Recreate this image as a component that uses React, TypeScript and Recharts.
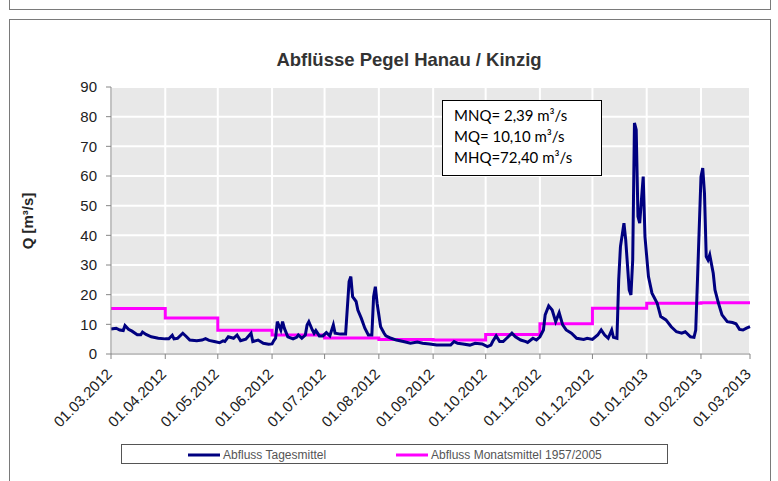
import React from "react";
import { LineChart, Line, XAxis, YAxis, CartesianGrid, Legend } from "recharts";

// Day offsets since 01.03.2012 for the daily discharge series
const flowDays = [
  0, 3, 5, 7, 8, 10, 12, 15, 17, 18, 20, 23, 27, 31, 33, 35, 36, 38, 41, 43,
  45, 49, 52, 54, 56, 59, 62, 64, 65, 67, 70, 72, 74, 77, 80, 81, 84, 87, 90, 92,
  93, 94, 95, 97, 98, 99, 101, 104, 106, 107, 109, 111, 112, 113, 115, 116, 117, 119, 121, 123,
  125, 127, 128, 131, 134, 136, 137, 138, 140, 141, 143, 145, 147, 149, 150, 151, 152, 154, 156, 157,
  160, 163, 167, 171, 175, 178, 182, 186, 190, 194, 196, 198, 201, 205, 208, 212, 215, 217, 218, 220,
  222, 224, 226, 229, 231, 234, 237, 238, 241, 243, 245, 247, 248, 250, 252, 254, 256, 258, 260, 263,
  266, 270, 272, 275, 278, 280, 282, 284, 286, 287, 289, 290, 291, 293, 294, 296, 297, 298, 299, 300,
  301, 302, 303, 304, 305, 307, 309, 312, 314, 317, 320, 323, 326, 328, 331, 333, 334, 335, 337, 338,
  339, 340, 341, 342, 344, 345, 347, 349, 352, 355, 357, 359, 361, 363, 365,
];
const flowValues = [
  8.4, 8.7, 8.1, 7.9, 9.6, 8.3, 7.7, 6.5, 6.5, 7.4, 6.6, 5.8, 5.3, 5.1, 5.1, 6.3, 5.1, 5.3, 7.0, 5.9,
  4.7, 4.5, 4.7, 5.2, 4.6, 4.2, 3.8, 4.4, 4.2, 5.8, 5.3, 6.4, 4.5, 5.0, 7.0, 4.2, 4.7, 3.6, 3.3, 3.4,
  4.5, 5.3, 10.9, 8.1, 10.9, 8.7, 5.8, 5.1, 5.6, 6.4, 5.3, 6.4, 9.8, 10.9, 8.1, 7.0, 7.9, 6.1, 6.1, 7.2,
  6.1, 9.8, 7.0, 6.7, 6.7, 24.4, 26.1, 19.3, 17.7, 14.8, 12.0, 8.7, 6.4, 6.4, 19.3, 22.7, 17.1, 9.2, 7.0, 6.1,
  5.3, 4.7, 4.2, 3.6, 4.0, 3.6, 3.4, 3.0, 3.0, 3.0, 4.2, 3.6, 3.4, 3.0, 3.6, 3.4, 2.5, 3.0, 4.2, 6.1,
  4.2, 4.2, 5.3, 7.0, 5.8, 4.7, 4.2, 3.9, 5.3, 4.7, 5.8, 8.1, 13.2, 16.2, 14.8, 10.9, 13.9, 9.8, 8.1, 7.0,
  5.3, 4.9, 5.3, 4.9, 6.4, 8.1, 6.4, 5.3, 8.1, 5.6, 5.3, 25.0, 36.2, 44.1, 38.5, 21.6, 19.9, 31.7, 77.9, 75.6,
  46.3, 44.1, 52.0, 59.8, 39.6, 26.1, 20.5, 17.1, 12.6, 11.5, 9.2, 7.5, 7.0, 7.5, 5.8, 5.6, 8.1, 25.0, 59.8, 62.7,
  54.2, 32.8, 31.7, 33.4, 27.2, 21.6, 17.1, 13.2, 10.9, 10.6, 10.2, 8.3, 8.1, 8.7, 9.2,
];

// Monthly long-term means (1957/2005), at each month start
const monthDays = [0, 31, 61, 92, 122, 153, 184, 214, 245, 275, 306, 337, 365];
const monthMeans = [15.3, 12.1, 8.0, 6.4, 5.4, 4.9, 4.7, 6.6, 10.2, 15.4, 17.1, 17.3, 17.3];
const monthLabels = [
  "01.03.2012", "01.04.2012", "01.05.2012", "01.06.2012", "01.07.2012", "01.08.2012",
  "01.09.2012", "01.10.2012", "01.11.2012", "01.12.2012", "01.01.2013", "01.02.2013", "01.03.2013",
];
const yTicks = [0, 10, 20, 30, 40, 50, 60, 70, 80, 90];

const title = "Abflüsse Pegel Hanau / Kinzig";
const yLabel = "Q [m³/s]";
const infoLines = ["MNQ= 2,39 m³/s", "MQ= 10,10 m³/s", "MHQ=72,40 m³/s"];
const seriesNames = ["Abfluss Tagesmittel", "Abfluss Monatsmittel 1957/2005"];
const seriesColors = ["#000080", "#FF00FF"];

const dailyData = flowDays.map((d, i) => ({ day: d, q: flowValues[i] }));
const monthlyData = monthDays.map((d, i) => ({ day: d, m: monthMeans[i] }));

const FONT = "Arial, 'Liberation Sans', sans-serif";

const XTick = (props: any) => {
  const { x, y, payload } = props;
  const idx = monthDays.indexOf(payload.value);
  return (
    <g transform={`translate(${x + 2},${y + 16})`}>
      <text
        x={0}
        y={0}
        textAnchor="end"
        transform="rotate(-45)"
        fontFamily={FONT}
        fontSize={15}
        fill="#222"
      >
        {idx >= 0 ? monthLabels[idx] : ""}
      </text>
    </g>
  );
};

const LegendContent = () => (
  <div
    style={{
      width: 547,
      height: 20,
      border: "1px solid #555",
      background: "#fff",
      boxSizing: "border-box",
      position: "relative",
      fontFamily: FONT,
      fontSize: 12,
      color: "#555",
    }}
  >
    {seriesNames.map((name, i) => (
      <div
        key={name}
        style={{
          position: "absolute",
          left: i === 0 ? 66 : 274,
          top: 1,
          display: "flex",
          alignItems: "center",
          height: 18,
          whiteSpace: "nowrap",
        }}
      >
        <svg width={33} height={6} style={{ marginRight: 2 }}>
          <line x1={0} y1={3} x2={32} y2={3} stroke={seriesColors[i]} strokeWidth={3} />
        </svg>
        <span>{name}</span>
      </div>
    ))}
  </div>
);

export default function App() {
  return (
    <div
      style={{
        position: "absolute",
        left: 0,
        top: 0,
        width: 778,
        height: 481,
        background: "#fff",
        overflow: "hidden",
      }}
    >
      {/* upper frame remnant */}
      <div
        style={{
          position: "absolute",
          left: 9,
          top: -10,
          width: 760,
          height: 18,
          border: "1.5px solid #7a7a7a",
        }}
      />
      {/* chart frame */}
      <div
        style={{
          position: "absolute",
          left: 9,
          top: 19,
          width: 760,
          height: 480,
          border: "1.5px solid #7a7a7a",
        }}
      />
      <svg
        width={778}
        height={80}
        style={{ position: "absolute", left: 0, top: 0 }}
      >
        <text
          x={409}
          y={66}
          textAnchor="middle"
          fontFamily={FONT}
          fontWeight="bold"
          fontSize={18.5}
          fill="#333"
        >
          {title}
        </text>
      </svg>
      <div style={{ position: "absolute", left: 0, top: 0 }}>
        <LineChart
          width={778}
          height={481}
          margin={{ top: 87, right: 28, bottom: 0, left: 0 }}
        >
          <CartesianGrid fill="#e8e8e8" stroke="#ffffff" strokeWidth={2} />
          <XAxis
            dataKey="day"
            type="number"
            domain={[0, 365]}
            ticks={monthDays}
            interval={0}
            height={127}
            tick={<XTick />}
            tickSize={5}
            tickMargin={0}
            stroke="#868686"
            allowDuplicatedCategory={false}
          />
          <YAxis
            type="number"
            domain={[0, 90]}
            ticks={yTicks}
            interval={0}
            width={111}
            tickSize={5}
            tickMargin={9}
            stroke="#868686"
            tick={{ fill: "#222", fontSize: 15, fontFamily: FONT }}
            label={(p: any) => (
              <text
                x={33}
                y={221}
                transform="rotate(-90, 33, 221)"
                textAnchor="middle"
                fontFamily={FONT}
                fontWeight="bold"
                fontSize={15}
                fill="#262626"
              >
                {yLabel}
              </text>
            )}
          />
          <Legend
            layout="horizontal"
            verticalAlign="middle"
            align="center"
            wrapperStyle={{ left: 121, top: 444, width: 547, height: 20 }}
            content={<LegendContent />}
          />
          <Line
            data={monthlyData}
            dataKey="m"
            type="stepAfter"
            stroke={seriesColors[1]}
            strokeWidth={3}
            dot={false}
            isAnimationActive={false}
            name={seriesNames[1]}
          />
          <Line
            data={dailyData}
            dataKey="q"
            type="linear"
            stroke={seriesColors[0]}
            strokeWidth={3}
            dot={false}
            isAnimationActive={false}
            name={seriesNames[0]}
          />
        </LineChart>
      </div>
      <div
        style={{
          position: "absolute",
          left: 442,
          top: 100,
          width: 160,
          height: 76,
          border: "1.5px solid #000",
          background: "#fff",
          boxSizing: "border-box",
          fontFamily: "Lato, 'Open Sans', sans-serif",
          fontSize: 15,
          color: "#000",
          padding: "4px 0 0 11px",
          lineHeight: "21px",
        }}
      >
        {infoLines.map((l) => (
          <div key={l}>{l}</div>
        ))}
      </div>
    </div>
  );
}
